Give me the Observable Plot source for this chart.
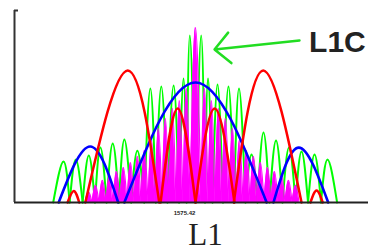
<!DOCTYPE html>
<html><head><meta charset="utf-8">
<script src="https://cdn.jsdelivr.net/npm/d3@7"></script>
<script src="https://cdn.jsdelivr.net/npm/@observablehq/plot@0.6"></script>
<style>html,body{margin:0;padding:0;background:#fff;} #chart svg{display:block}</style>
</head><body><div id="chart"></div>
<script>
// x: frequency offset from 1575.42 MHz (MHz); y: relative power spectral density (0–100)
const xTicks = [0];
const xTickLabels = ["1575.42"];
const bandLabel = "L1";
const signalLabel = "L1C";
const xDomain = [-26.46, 25.29];
const yDomain = [0, 100];

// lobes: [start, peakX, peakY, end]
const blueLobes = [
  [-20.0, -15.4, 29.2, -11.3],
  [-10.4, 0.0, 62.5, 10.4],
  [11.4, 15.1, 28.6, 19.4]
];
const redLobes = [
  [-18.7, -17.8, 6.0, -17.0],
  [-16.1, -9.9, 68.8, -5.3],
  [-5.1, -2.6, 49.0, 0.0],
  [0.0, 2.8, 49.0, 5.7],
  [5.6, 9.9, 68.8, 15.5],
  [16.8, 17.7, 6.3, 18.6]
];
const greenNulls = [-20.8, -18.4, -16.5, -14.7, -13.0, -11.2, -9.4, -7.5, -5.8, -4.1, -2.4, -1.3, -0.07,
                    0.07, 1.39, 2.49, 4.02, 5.63, 7.31, 9.06, 10.82, 12.72, 14.62, 16.45, 18.35, 20.7];
const greenPeaks = [
  [-19.3, 21.4], [-17.5, 22.4], [-15.6, 24.5], [-13.9, 28.6], [-12.1, 30.7], [-10.4, 32.8],
  [-8.5, 27.0], [-6.6, 59.4], [-5.0, 60.4], [-3.2, 60.9], [-1.75, 64.6], [-0.83, 87.0],
  null,
  [0.83, 87.0], [1.83, 64.6], [3.22, 61.5], [4.82, 60.4], [6.36, 59.4], [8.19, 25.0],
  [9.94, 36.5], [11.77, 32.3], [13.67, 28.6], [15.5, 26.6], [17.4, 25.0], [19.3, 22.4]
];
const magentaNulls = [-16.15, -15.13, -14.11, -13.08, -12.06, -11.04, -10.01, -8.99, -7.97, -6.94, -5.92,
  -4.90, -3.87, -2.85, -1.83, -0.80, 0.80, 1.83, 2.85, 3.87, 4.90, 5.92, 6.94, 7.97, 8.99, 10.01,
  11.04, 12.06, 13.08, 14.11, 15.13];
const magentaPeaks = [
  [-15.64, 5.7], [-14.62, 8.9], [-13.60, 11.5], [-12.57, 14.1], [-11.55, 16.1], [-10.53, 18.2],
  [-9.50, 20.8], [-8.48, 24.0], [-7.46, 27.1], [-6.43, 32.3], [-5.41, 38.5], [-4.39, 43.75],
  [-3.36, 49.0], [-2.34, 53.1], [-1.32, 59.4], [0, 91.1], [1.32, 59.4], [2.34, 53.1], [3.36, 49.0],
  [4.39, 43.75], [5.41, 38.5], [6.43, 32.3], [7.46, 27.1], [8.48, 24.0], [9.50, 20.8], [10.53, 18.2],
  [11.55, 16.1], [12.57, 14.1], [13.60, 11.5], [14.62, 8.9]
];

function lobeRows(lobes, name) {
  const rows = [];
  lobes.forEach(([a, px, py, b], i) => {
    const z = name + i;
    rows.push({x: a, y: 0, z}, {x: px, y: py, z}, {x: b, y: 0, z});
  });
  return rows;
}
function nullRows(nulls, peaks, name) {
  const rows = [];
  peaks.forEach((p, i) => {
    if (!p) return;
    const z = name + i;
    rows.push({x: nulls[i], y: 0, z}, {x: p[0], y: p[1], z}, {x: nulls[i + 1], y: 0, z});
  });
  return rows;
}

const magenta = nullRows(magentaNulls, magentaPeaks, "m");
const green = nullRows(greenNulls, greenPeaks, "g");
const blue = lobeRows(blueLobes, "b");
const red = lobeRows(redLobes, "r");

const chart = Plot.plot({
  width: 368, height: 251,
  marginLeft: 14, marginRight: 0, marginTop: 10, marginBottom: 49,
  x: {domain: xDomain, axis: null},
  y: {domain: yDomain, axis: null},
  style: {background: "white", overflow: "visible"},
  marks: [
    Plot.line(green, {x: "x", y: "y", z: "z", curve: "natural", stroke: "#00ff00", strokeWidth: 2}),
    Plot.areaY(magenta, {x: "x", y: "y", z: "z", curve: "natural", fill: "#ff00ff"}),
    Plot.line(magenta, {x: "x", y: "y", z: "z", curve: "natural", stroke: "#ff00ff", strokeWidth: 1.2}),
    Plot.line(blue, {x: "x", y: "y", z: "z", curve: "natural", stroke: "#0000ff", strokeWidth: 2.6}),
    Plot.line(red, {x: "x", y: "y", z: "z", curve: "natural", stroke: "#ff0000", strokeWidth: 2.5}),
    Plot.ruleY([0], {stroke: "#222", strokeWidth: 2}),
    Plot.ruleX([xDomain[0]], {stroke: "#333", strokeWidth: 2}),
    Plot.axisY([yDomain[1]], {anchor: "left", tickSize: -4, tickFormat: () => "", stroke: "#333", strokeWidth: 2}),
    Plot.text(xTicks, {x: d => d, y: 0, text: (d, i) => xTickLabels[i], dx: -11, dy: 10.5,
      fontSize: 6, fontWeight: "bold", fontFamily: "Liberation Sans", fill: "#222"}),
    Plot.text([bandLabel], {x: 0, y: 0, text: d => d, dx: 10, dy: 42, lineAnchor: "bottom",
      fontSize: 31, fontFamily: "Liberation Serif", fill: "#222"}),
    Plot.arrow([{x1: 15.2, y1: 84.4, x2: 2.78, y2: 79.7}], {x1: "x1", y1: "y1", x2: "x2", y2: "y2",
      stroke: "#22dd22", strokeWidth: 2.5, headAngle: 90, headLength: 13}),
    Plot.text([signalLabel], {x: 16.6, y: 78.6, text: d => d, textAnchor: "start", lineAnchor: "bottom",
      fontSize: 30, fontWeight: "bold", fontFamily: "Liberation Sans", fill: "#222"})
  ]
});
document.getElementById("chart").append(chart);
</script></body></html>
